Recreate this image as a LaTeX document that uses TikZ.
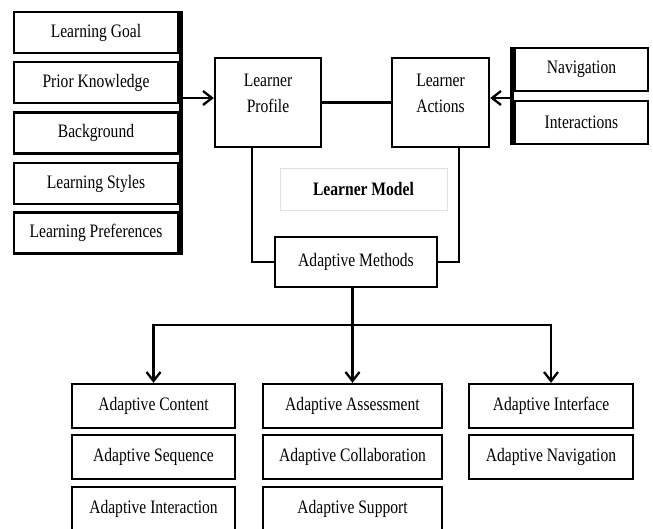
\documentclass[tikz,border=0pt]{standalone}
\usepackage{fontspec}
\setmainfont{Liberation Serif}[FakeStretch=0.82]
\usetikzlibrary{arrows.meta,calc}
\begin{document}
\begin{tikzpicture}[x=1pt,y=-1pt,
  every node/.style={font=\fontsize{19}{25}\selectfont},
  box/.style={draw, line width=2.3pt, inner sep=0pt, align=center},
  lbox/.style={box, minimum width=164, minimum height=41},
  rbox/.style={box, minimum width=133, minimum height=43},
  bbox/.style={box, minimum height=44},
  conn/.style={line width=2.5pt},
  bar/.style={line width=4.5pt},
  arr/.style={conn, -{Straight Barb[length=9pt,width=14pt,line width=2.3pt]}},
]
\useasboundingbox (0,0) rectangle (653,528);

% left group
\node[lbox] (lg) at (96,32.5) {Learning Goal};
\node[lbox] (pk) at (96,82.5) {Prior Knowledge};
\node[lbox] (bg) at (96,133) {Background};
\node[lbox] (ls) at (96,183.5) {Learning Styles};
\node[lbox] (lpr) at (96,233) {Learning Preferences};
\draw[bar] ([xshift=2pt]lg.north east) -- ([xshift=2pt]lpr.south east);

% learner profile / actions
\node[box, minimum width=106, minimum height=89] (lp) at (268,102.5)
  {\parbox[c][89pt][t]{100pt}{\centering\rule{0pt}{28pt}Learner\\[1pt]Profile}};
\node[box, minimum width=97, minimum height=89] (la) at (440.5,102.5)
  {\parbox[c][89pt][t]{92pt}{\centering\rule{0pt}{28pt}Learner\\[1pt]Actions}};
\draw[conn] (lp.east) -- (la.west);

% right group
\node[rbox] (nav) at (581.5,69.5) {Navigation};
\node[rbox] (int) at (581.5,122.5) {Interactions};
\draw[bar] ([xshift=-2pt]nav.north west) -- ([xshift=-2pt]int.south west);

\coordinate (la1) at (182,98);
\coordinate (ra1) at (513,98);
\draw[arr] (la1) -- (la1 -| lp.west);
\draw[arr] (ra1) -- (ra1 -| la.east);

% learner model label
\node[draw=black!12, line width=0.8pt, minimum width=167, minimum height=42,
      font=\bfseries\fontsize{19}{25}\selectfont] (lm) at (363.5,189) {Learner Model};

% adaptive methods
\node[box, minimum width=162, minimum height=50] (am) at (356,262)
  {\raisebox{2pt}{Adaptive Methods}};
\draw[conn] ($(lp.south)+(-16,0)$) |- (am.west);
\draw[conn] ($(la.south)+(18.5,0)$) |- (am.east);

% bottom boxes
\node[bbox, minimum width=163] (c1a) at (153.5,406) {Adaptive Content};
\node[bbox, minimum width=163] (c1b) at (153.5,457) {Adaptive Sequence};
\node[bbox, minimum width=163] (c1c) at (153.5,509) {Adaptive Interaction};
\node[bbox, minimum width=179] (c2a) at (352.5,406) {Adaptive Assessment};
\node[bbox, minimum width=179] (c2b) at (352.5,457) {Adaptive Collaboration};
\node[bbox, minimum width=179] (c2c) at (352.5,509) {Adaptive Support};
\node[bbox, minimum width=164] (c3a) at (551,406) {Adaptive Interface};
\node[bbox, minimum width=164] (c3b) at (551,457) {Adaptive Navigation};

\coordinate (hub) at (352.5,325);
\draw[arr] (am.south -| hub) -- (c2a.north);
\draw[arr] (hub) -| (c1a.north);
\draw[arr] (hub) -| (c3a.north);
\end{tikzpicture}
\end{document}
